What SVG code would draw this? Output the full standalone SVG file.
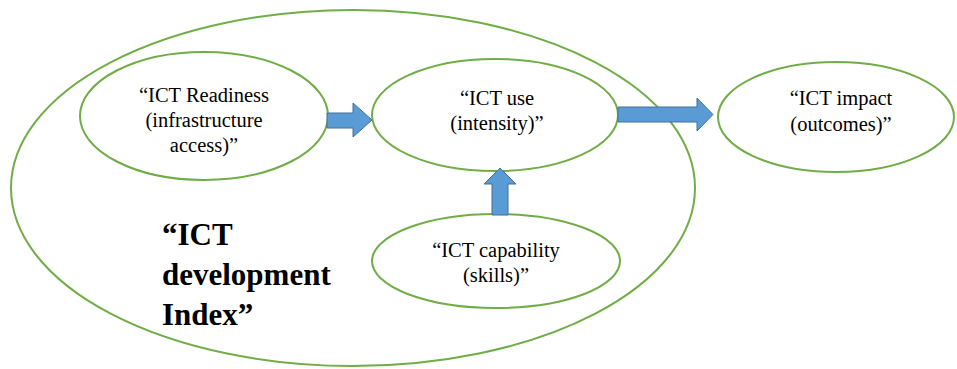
<svg xmlns="http://www.w3.org/2000/svg" width="957" height="369" viewBox="0 0 957 369" font-family="'Liberation Serif', serif">
<style>
svg text{font-family:'Liberation Serif',serif !important}
.node{fill:none;stroke:#70AD47;stroke-width:2}
.arr{fill:#5B9BD5;stroke:#41719C;stroke-width:1}
</style>
<rect width="957" height="369" fill="#fff"/>
<g id="idi">
<ellipse class="node" cx="353" cy="188" rx="342" ry="178"/>
<text style="font-family:'Liberation Serif',serif !important" font-size="31" font-weight="bold" x="162" y="245">“ICT</text>
<text style="font-family:'Liberation Serif',serif !important" font-size="31" font-weight="bold" x="162" y="285">development</text>
<text style="font-family:'Liberation Serif',serif !important" font-size="31" font-weight="bold" x="162" y="325">Index”</text>
</g>
<g id="readiness">
<ellipse class="node" cx="204" cy="116" rx="124" ry="64"/>
<text style="font-family:'Liberation Serif',serif !important" font-size="20.5" text-anchor="middle" x="204" y="102">“ICT Readiness</text>
<text style="font-family:'Liberation Serif',serif !important" font-size="20.5" text-anchor="middle" x="204" y="127">(infrastructure</text>
<text style="font-family:'Liberation Serif',serif !important" font-size="20.5" text-anchor="middle" x="204" y="152">access)”</text>
</g>
<g id="use">
<ellipse class="node" cx="495" cy="115" rx="123" ry="56"/>
<text style="font-family:'Liberation Serif',serif !important" font-size="20.5" text-anchor="middle" x="497" y="105">“ICT use</text>
<text style="font-family:'Liberation Serif',serif !important" font-size="20.5" text-anchor="middle" x="497" y="130">(intensity)”</text>
</g>
<g id="impact">
<ellipse class="node" cx="836" cy="117" rx="118" ry="55"/>
<text style="font-family:'Liberation Serif',serif !important" font-size="20.5" text-anchor="middle" x="841" y="105">“ICT impact</text>
<text style="font-family:'Liberation Serif',serif !important" font-size="20.5" text-anchor="middle" x="841" y="131">(outcomes)”</text>
</g>
<g id="capability">
<ellipse class="node" cx="496" cy="261" rx="124" ry="47"/>
<text style="font-family:'Liberation Serif',serif !important" font-size="20.5" text-anchor="middle" x="496" y="257">“ICT capability</text>
<text style="font-family:'Liberation Serif',serif !important" font-size="20.5" text-anchor="middle" x="496" y="282">(skills)”</text>
</g>
<g id="connectors">
<polygon class="arr" points="327,113 353,113 353,103 372,120 353,137 353,128 327,128"/>
<polygon class="arr" points="618,107 697,107 697,98 713,114.5 697,131 697,122 618,122"/>
<polygon class="arr" points="492,215 492,184 484,184 500,168 516,184 508,184 508,215"/>
</g>
</svg>
